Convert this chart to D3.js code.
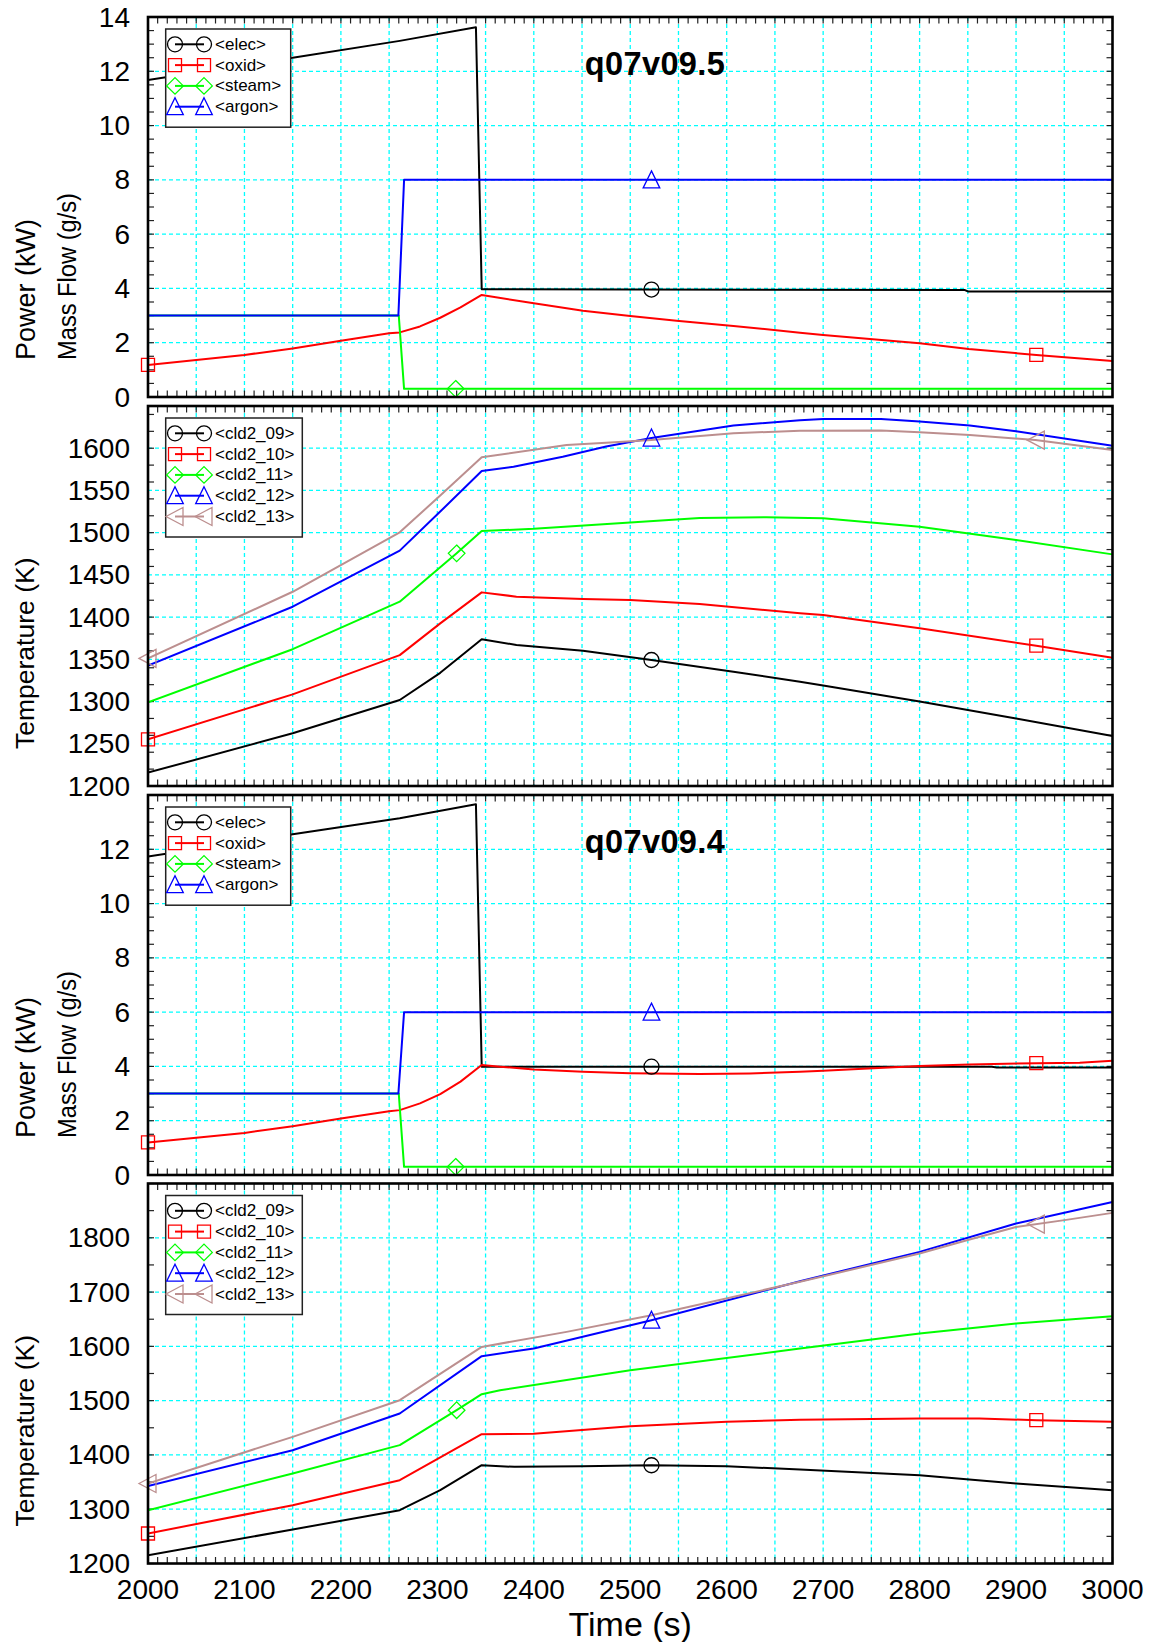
<!DOCTYPE html>
<html>
<head>
<meta charset="utf-8">
<script src="https://cdn.jsdelivr.net/npm/d3@7"></script>
<style>
  html, body { margin: 0; padding: 0; background: #fff; }
  svg { display: block; font-family: "Liberation Sans", Arial, Helvetica, sans-serif; }
</style>
</head>
<body>
<svg id="chart" width="1152" height="1642"></svg>
<script>
// ---------------- data ----------------
const timeDomain = [2000, 3000];
const timeTicks = [2000, 2100, 2200, 2300, 2400, 2500, 2600, 2700, 2800, 2900, 3000];

// y tick labels per panel
const flowTicks95 = [0, 2, 4, 6, 8, 10, 12, 14];
const tempTicks95 = [1200, 1250, 1300, 1350, 1400, 1450, 1500, 1550, 1600];
const flowTicks94 = [0, 2, 4, 6, 8, 10, 12];
const tempTicks94 = [1200, 1300, 1400, 1500, 1600, 1700, 1800];

const flowNames = ["<elec>", "<oxid>", "<steam>", "<argon>"];
const tempNames = ["<cld2_09>", "<cld2_10>", "<cld2_11>", "<cld2_12>", "<cld2_13>"];

// run q07v09.5 : power (kW) and mass flows (g/s)
const elec95  = [[2000, 11.68], [2150, 12.5], [2261, 13.12], [2340, 13.62], [2346, 3.97], [2847, 3.94], [2850, 3.89], [3000, 3.89]];
const oxid95  = [[2000, 1.18], [2050, 1.36], [2100, 1.55], [2150, 1.79], [2200, 2.07], [2250, 2.35], [2261, 2.38], [2282, 2.6], [2303, 2.92], [2324, 3.3], [2346, 3.76], [2400, 3.45], [2451, 3.18], [2500, 2.98], [2548, 2.81], [2607, 2.62], [2676, 2.37], [2700, 2.28], [2800, 1.98], [2851, 1.77], [2921, 1.55], [3000, 1.33]];
const steam95 = [[2000, 3.0], [2260, 3.0], [2265.5, 0.3], [3000, 0.3]];
const argon95 = [[2000, 3.0], [2259.6, 3.0], [2265.5, 8.0], [3000, 8.0]];

// run q07v09.5 : cladding temperatures (K)
const c09_95 = [[2000, 1215.8], [2150, 1262.4], [2261, 1301.8], [2303, 1334], [2346, 1373.7], [2382, 1367], [2451, 1360.3], [2522, 1349.2], [2607, 1335.4], [2676, 1323.5], [2700, 1319], [2800, 1300], [2900, 1280], [3000, 1259.2]];
const c10_95 = [[2000, 1255.3], [2150, 1308.5], [2261, 1355], [2303, 1392.6], [2346, 1429.3], [2382, 1424.2], [2451, 1421.4], [2500, 1420.3], [2572, 1415.5], [2676, 1404.5], [2700, 1402.5], [2800, 1386.7], [2921, 1366.2], [3000, 1352]];
const c11_95 = [[2000, 1299.1], [2150, 1362], [2261, 1418.3], [2320, 1475.5], [2346, 1502], [2400, 1504.5], [2500, 1512], [2572, 1517.5], [2641, 1518.2], [2700, 1517], [2800, 1507.1], [2900, 1491.3], [3000, 1474.3]];
const c12_95 = [[2000, 1342.5], [2150, 1412.3], [2261, 1478.7], [2303, 1525], [2346, 1573], [2379, 1578], [2430, 1590], [2475, 1602], [2522, 1612], [2607, 1627], [2676, 1633], [2700, 1634.5], [2760, 1634.5], [2800, 1631.5], [2852, 1627], [2900, 1620], [3000, 1603]];
const c13_95 = [[2000, 1351.1], [2150, 1430], [2261, 1500.4], [2303, 1544], [2346, 1589.2], [2434, 1603.8], [2475, 1606.5], [2522, 1609.7], [2607, 1617.6], [2676, 1620.8], [2760, 1621], [2800, 1619], [2852, 1615.7], [2920, 1609.7], [3000, 1597.9]];

// run q07v09.4 : power (kW) and mass flows (g/s)
const elec94  = [[2000, 11.73], [2150, 12.55], [2261, 13.14], [2340, 13.66], [2346, 3.99], [2875, 3.99], [2880, 3.96], [3000, 3.96]];
const oxid94  = [[2000, 1.2], [2050, 1.37], [2100, 1.55], [2150, 1.8], [2200, 2.08], [2250, 2.35], [2261, 2.39], [2282, 2.64], [2303, 2.98], [2324, 3.44], [2346, 4.05], [2365, 3.99], [2400, 3.89], [2451, 3.8], [2500, 3.75], [2572, 3.72], [2624, 3.74], [2676, 3.8], [2700, 3.84], [2752, 3.93], [2800, 4.02], [2852, 4.07], [2921, 4.12], [2966, 4.14], [3000, 4.21]];
const steam94 = [[2000, 3.0], [2260, 3.0], [2265.5, 0.3], [3000, 0.3]];
const argon94 = [[2000, 3.0], [2259.6, 3.0], [2265.5, 6.0], [3000, 6.0]];

// run q07v09.4 : cladding temperatures (K)
const c09_94 = [[2000, 1215.3], [2150, 1262.6], [2261, 1298.2], [2303, 1335], [2346, 1381.1], [2380, 1378], [2450, 1379], [2522, 1381], [2600, 1379], [2676, 1373.2], [2800, 1362.7], [2900, 1347.4], [3000, 1335]];
const c10_94 = [[2000, 1255.3], [2150, 1307.4], [2261, 1353.5], [2346, 1438.2], [2400, 1439], [2500, 1452.9], [2600, 1461], [2676, 1465], [2800, 1467], [2862, 1467], [2921, 1464], [3000, 1461]];
const c11_94 = [[2000, 1298.2], [2150, 1365.8], [2261, 1418], [2320, 1482.4], [2346, 1511.9], [2365, 1519], [2500, 1556], [2676, 1596], [2800, 1623.7], [2900, 1642.1], [3000, 1655.6]];
const c12_94 = [[2000, 1342.5], [2150, 1408.7], [2261, 1476.3], [2346, 1581.9], [2400, 1596], [2522, 1648.2], [2676, 1720], [2800, 1774], [2900, 1826.3], [3000, 1866]];
const c13_94 = [[2000, 1347.4], [2150, 1433.3], [2261, 1500.8], [2346, 1599], [2434, 1626.7], [2522, 1657.4], [2676, 1718.9], [2800, 1771], [2850, 1796], [2900, 1820], [2952, 1833], [3000, 1845.9]];

// times at which each curve carries its symbol
const flowMarks = [[2522], [2000, 2921], [2319], [2522]];
const tempMarks = [[2522], [2000, 2921], [2320], [2522], [2000, 2921]];

// ---------------- styling ----------------
const flowColors = ["#000000", "#ff0000", "#00ff00", "#0000ff"];
const tempColors = ["#000000", "#ff0000", "#00ff00", "#0000ff", "#bc8f8f"];
const flowSymbols = ["circle", "square", "diamond", "triangle"];
const tempSymbols = ["circle", "square", "diamond", "triangle", "left"];

const PH = 380;
const panels = [
  { top: 17,     domain: [0, 14],      labels: flowTicks95, minor: 0.5, grid: 2,   data: [elec95, oxid95, steam95, argon95], kind: "flow", title: "q07v09.5", legendW: 125 },
  { top: 406,    domain: [1200, 1650], labels: tempTicks95, minor: 20,  grid: 50,  data: [c09_95, c10_95, c11_95, c12_95, c13_95], kind: "temp", legendW: 136.6 },
  { top: 795,    domain: [0, 14],      labels: flowTicks94, minor: 0.5, grid: 2,   data: [elec94, oxid94, steam94, argon94], kind: "flow", title: "q07v09.4", legendW: 125 },
  { top: 1183.5, domain: [1200, 1900], labels: tempTicks94, minor: 50,  grid: 100, data: [c09_94, c10_94, c11_94, c12_94, c13_94], kind: "temp", legendW: 136.6 }
];

const svg = d3.select("#chart");
const x = d3.scaleLinear().domain(timeDomain).range([148, 1112.5]);
const X0 = x.range()[0], X1 = x.range()[1];

function drawSymbol(g, type, cx, cy, color) {
  if (type === "circle") {
    g.append("circle").attr("cx", cx).attr("cy", cy).attr("r", 7.5)
      .attr("fill", "none").attr("stroke", color).attr("stroke-width", 1.3);
    return;
  }
  let d;
  if (type === "square") {
    d = `M${cx - 6.5},${cy - 6.5}h13v13h-13Z`;
  } else if (type === "diamond") {
    d = `M${cx},${cy - 8.3}L${cx + 8.3},${cy}L${cx},${cy + 8.3}L${cx - 8.3},${cy}Z`;
  } else if (type === "triangle") {
    d = `M${cx},${cy - 9}L${cx + 8.3},${cy + 8}L${cx - 8.3},${cy + 8}Z`;
  } else {
    d = `M${cx - 9},${cy}L${cx + 8},${cy - 9}L${cx + 8},${cy + 9}Z`;
  }
  g.append("path").attr("d", d)
    .attr("fill", "none").attr("stroke", color).attr("stroke-width", 1.3);
}

function valueAt(series, t) {
  const i = d3.bisector(d => d[0]).left(series, t);
  if (i <= 0) return series[0][1];
  if (i >= series.length) return series[series.length - 1][1];
  const a = series[i - 1], b = series[i];
  return a[1] + (b[1] - a[1]) * (t - a[0]) / (b[0] - a[0]);
}

panels.forEach((p, pi) => {
  const y = d3.scaleLinear().domain(p.domain).range([p.top + PH, p.top]);
  const g = svg.append("g");
  const names = p.kind === "flow" ? flowNames : tempNames;
  const colors = p.kind === "flow" ? flowColors : tempColors;
  const syms = p.kind === "flow" ? flowSymbols : tempSymbols;
  const marks = p.kind === "flow" ? flowMarks : tempMarks;

  // clip region for curves
  const clipId = "clip" + pi;
  svg.append("clipPath").attr("id", clipId)
    .append("rect").attr("x", X0).attr("y", p.top).attr("width", X1 - X0).attr("height", PH);

  // dashed grid
  const grid = g.append("g").attr("stroke", "#00ffff").attr("stroke-width", 1.3).attr("stroke-dasharray", "4,3");
  d3.range(2050, 3000, 50).forEach(t => {
    grid.append("line").attr("x1", x(t)).attr("x2", x(t)).attr("y1", p.top).attr("y2", p.top + PH);
  });
  d3.range(p.domain[0] + p.grid, p.domain[1] - 1e-6, p.grid).forEach(v => {
    grid.append("line").attr("x1", X0).attr("x2", X1).attr("y1", y(v)).attr("y2", y(v));
  });

  // inward ticks on all four sides
  const ticks = g.append("g").attr("stroke", "#222").attr("stroke-width", 1.2);
  d3.range(timeDomain[0], timeDomain[1] + 1e-6, 10).forEach(t => {
    ticks.append("line").attr("x1", x(t)).attr("x2", x(t)).attr("y1", p.top).attr("y2", p.top + 6.5);
    ticks.append("line").attr("x1", x(t)).attr("x2", x(t)).attr("y1", p.top + PH).attr("y2", p.top + PH - 6.5);
  });
  d3.range(p.domain[0], p.domain[1] + 1e-6, p.minor).forEach(v => {
    ticks.append("line").attr("x1", X0).attr("x2", X0 + 6).attr("y1", y(v)).attr("y2", y(v));
    ticks.append("line").attr("x1", X1).attr("x2", X1 - 6).attr("y1", y(v)).attr("y2", y(v));
  });

  // curves
  const line = d3.line().x(d => x(d[0])).y(d => y(d[1]));
  const curves = g.append("g").attr("clip-path", `url(#${clipId})`);
  p.data.forEach((series, si) => {
    curves.append("path").datum(series)
      .attr("d", line)
      .attr("fill", "none")
      .attr("stroke", colors[si])
      .attr("stroke-width", 2)
      .attr("stroke-linejoin", "round");
  });
  // symbols on curves
  p.data.forEach((series, si) => {
    marks[si].forEach(t => drawSymbol(g, syms[si], x(t), y(valueAt(series, t)), colors[si]));
  });

  // frame
  g.append("rect").attr("x", X0).attr("y", p.top).attr("width", X1 - X0).attr("height", PH)
    .attr("fill", "none").attr("stroke", "#000").attr("stroke-width", 2.6);

  // y tick labels
  g.append("g").selectAll("text").data(p.labels).join("text")
    .attr("x", 130).attr("y", d => y(d))
    .attr("text-anchor", "end").attr("dominant-baseline", "central")
    .attr("font-size", 28).attr("fill", "#000")
    .text(d => d);

  // axis titles
  const titleY = p.top + PH - 37;
  if (p.kind === "flow") {
    g.append("text").attr("transform", `translate(35,${titleY}) rotate(-90)`)
      .attr("font-size", 27).text("Power (kW)");
    g.append("text").attr("transform", `translate(76,${titleY}) rotate(-90)`)
      .attr("font-size", 26).attr("textLength", 167).attr("lengthAdjust", "spacingAndGlyphs")
      .text("Mass Flow (g/s)");
  } else {
    g.append("text").attr("transform", `translate(34,${titleY}) rotate(-90)`)
      .attr("font-size", 26.5).text("Temperature (K)");
  }

  // run name
  if (p.title) {
    g.append("text").attr("x", 655).attr("y", p.top + 58)
      .attr("text-anchor", "middle").attr("font-size", 32.5).attr("font-weight", "bold")
      .attr("letter-spacing", 0.4).text(p.title);
  }

  // legend
  const n = names.length;
  const lg = g.append("g");
  lg.append("rect").attr("x", 165.7).attr("y", p.top + 12)
    .attr("width", p.legendW).attr("height", 15 + n * 20.8)
    .attr("fill", "#fff").attr("stroke", "#222").attr("stroke-width", 1.5);
  names.forEach((nm, i) => {
    const ly = p.top + 27.3 + i * 20.8;
    lg.append("line").attr("x1", 175).attr("x2", 204).attr("y1", ly).attr("y2", ly)
      .attr("stroke", colors[i]).attr("stroke-width", 2);
    drawSymbol(lg, syms[i], 175, ly, colors[i]);
    drawSymbol(lg, syms[i], 204, ly, colors[i]);
    lg.append("text").attr("x", 215).attr("y", ly).attr("dominant-baseline", "central")
      .attr("font-size", 17).attr("fill", "#000").text(nm);
  });

  // time labels under the last panel
  if (pi === panels.length - 1) {
    g.append("g").selectAll("text").data(timeTicks).join("text")
      .attr("x", d => x(d)).attr("y", p.top + PH + 35)
      .attr("text-anchor", "middle").attr("font-size", 28).text(d => d);
    g.append("text").attr("x", (X0 + X1) / 2).attr("y", 1636)
      .attr("text-anchor", "middle").attr("font-size", 34).text("Time (s)");
  }
});
</script>
</body>
</html>
